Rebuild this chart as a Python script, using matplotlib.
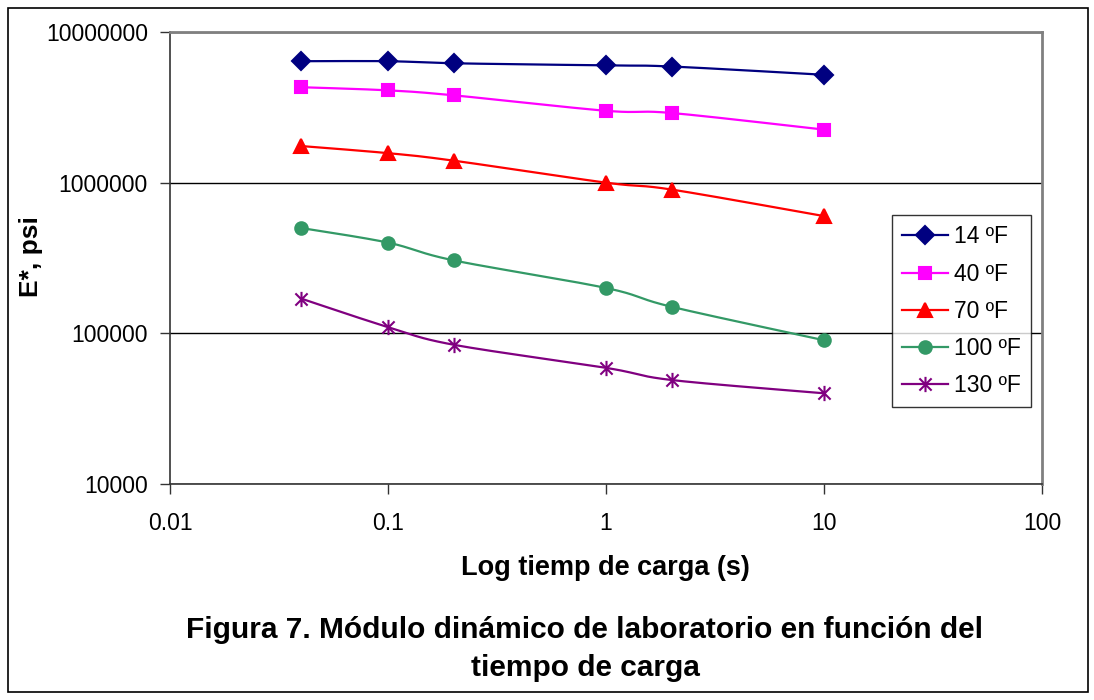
import numpy as np
import matplotlib
matplotlib.use('Agg')
import matplotlib.pyplot as plt
from matplotlib.path import Path
from matplotlib.patches import Rectangle
from matplotlib.lines import Line2D

plt.rcParams['font.family'] = ['Liberation Sans', 'DejaVu Sans']

# Datos
tiempo = [0.04, 0.1, 0.2, 1, 2, 10]
e_14 = [6.4e6, 6.4e6, 6.2e6, 6.0e6, 5.9e6, 5.2e6]
e_40 = [4.3e6, 4.1e6, 3.8e6, 3.0e6, 2.9e6, 2.25e6]
e_70 = [1.75e6, 1.57e6, 1.4e6, 1.0e6, 9.0e5, 6.0e5]
e_100 = [5.0e5, 4.0e5, 3.05e5, 2.0e5, 1.5e5, 9.0e4]
e_130 = [1.7e5, 1.1e5, 8.4e4, 5.9e4, 4.9e4, 4.0e4]
etiquetas = ['14 ºF', '40 ºF', '70 ºF', '100 ºF', '130 ºF']

# marcador tipo asterisco de Excel (X + linea vertical)
estrella = Path([(0, -1), (0, 1), (-0.8, -0.8), (0.8, 0.8), (-0.8, 0.8), (0.8, -0.8)],
                [Path.MOVETO, Path.LINETO, Path.MOVETO, Path.LINETO, Path.MOVETO, Path.LINETO])

series = [
    (e_14, '#000080', 'D', 9),
    (e_40, '#FF00FF', 's', 9),
    (e_70, '#FF0000', '^', 10),
    (e_100, '#339966', 'o', 9),
    (e_130, '#800080', estrella, 11),
]


def suavizar(x, y, n=30):
    # linea suavizada estilo Excel (Bezier por tramos) en espacio log-log
    p = np.column_stack([np.log10(x), np.log10(y)])
    tramos = []
    for i in range(len(p) - 1):
        p0 = p[i - 1] if i > 0 else p[i]
        p3 = p[i + 2] if i + 2 < len(p) else p[i + 1]
        c1 = p[i] + (p[i + 1] - p0) / 6
        c2 = p[i + 1] - (p3 - p[i]) / 6
        t = np.linspace(0, 1, n)[:, None]
        tramos.append((1 - t) ** 3 * p[i] + 3 * (1 - t) ** 2 * t * c1
                      + 3 * (1 - t) * t ** 2 * c2 + t ** 3 * p[i + 1])
    s = np.vstack(tramos)
    return 10 ** s[:, 0], 10 ** s[:, 1]


fig = plt.figure(figsize=(10.94, 7.0), dpi=100)
ax = fig.add_axes([170 / 1094, 1 - 484 / 700, 872 / 1094, 452 / 700])

handles = []
for (vals, col, mk, ms), lab in zip(series, etiquetas):
    xs, ys = suavizar(tiempo, vals)
    ax.plot(xs, ys, color=col, lw=1.6, zorder=3)
    ax.plot(tiempo, vals, linestyle='none', marker=mk, markersize=ms,
            color=col, markeredgecolor=col, markeredgewidth=1.5, zorder=4)
    handles.append(Line2D([], [], color=col, lw=1.6, marker=mk, markersize=ms,
                          markeredgecolor=col, markeredgewidth=1.5, label=lab))

ax.set_xscale('log')
ax.set_yscale('log')
ax.set_xlim(0.01, 100)
ax.set_ylim(1e4, 1e7)
ax.set_xticks([0.01, 0.1, 1, 10, 100])
ax.set_xticklabels(['0.01', '0.1', '1', '10', '100'])
ax.set_yticks([1e4, 1e5, 1e6, 1e7])
ax.set_yticklabels(['10000', '100000', '1000000', '10000000'])
ax.minorticks_off()
ax.tick_params(labelsize=16.5, direction='out', length=7, width=1, color='#333333', pad=9)
ax.tick_params(axis='x', pad=13)

ax.set_axisbelow(True)
ax.yaxis.grid(True, color='black', lw=1)
for s in ['top', 'right']:
    ax.spines[s].set_color('#808080')
    ax.spines[s].set_linewidth(2)
for s in ['left', 'bottom']:
    ax.spines[s].set_color('#333333')
    ax.spines[s].set_linewidth(1.2)

leg = fig.legend(handles=handles, loc='upper left',
                 bbox_to_anchor=(892 / 1094, 1 - 215 / 700), fontsize=16.5,
                 frameon=True, fancybox=False, edgecolor='black',
                 handlelength=2.0, labelspacing=0.62, borderpad=0.45,
                 handletextpad=0.25, borderaxespad=0)
leg.get_frame().set_linewidth(1)

fig.text(31 / 1094, 1 - 257 / 700, 'E*, psi', rotation=90, fontsize=19,
         fontweight='bold', ha='center', va='center')
fig.text(605 / 1094, 1 - 568 / 700, 'Log tiemp de carga (s)', fontsize=19.5,
         fontweight='bold', ha='center', va='center')
fig.text(585 / 1094, 1 - 630 / 700, 'Figura 7. Módulo dinámico de laboratorio en función del',
         fontsize=21.5, fontweight='bold', ha='center', va='center')
fig.text(585 / 1094, 1 - 668 / 700, 'tiempo de carga',
         fontsize=21.5, fontweight='bold', ha='center', va='center')

fig.patches.append(Rectangle((8 / 1094, 8 / 700), 1080 / 1094, 684 / 700,
                             transform=fig.transFigure, fill=False,
                             edgecolor='black', lw=1.2))

fig.savefig('out.png', dpi=100)
